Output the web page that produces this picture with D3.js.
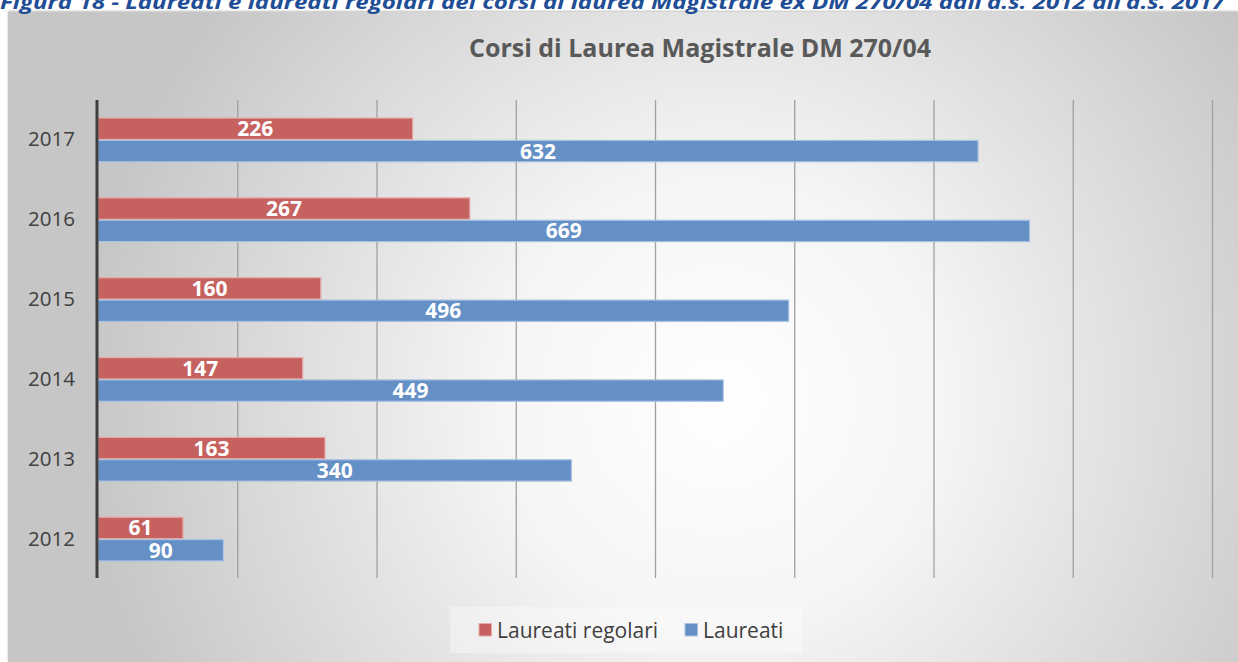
<!DOCTYPE html>
<html>
<head>
<meta charset="utf-8">
<script src="https://cdn.jsdelivr.net/npm/d3@7"></script>
<style>
  html, body { margin: 0; padding: 0; background: #ffffff; }
  svg { display: block; }
</style>
</head>
<body>
<script>
const years = ["2017", "2016", "2015", "2014", "2013", "2012"];
const laureatiRegolari = [226, 267, 160, 147, 163, 61];
const laureati = [632, 669, 496, 449, 340, 90];
const seriesNames = ["Laureati regolari", "Laureati"];
const xTicks = [0, 100, 200, 300, 400, 500, 600, 700, 800];
const captionText = "Figura 18 - Laureati e laureati regolari dei corsi di laurea Magistrale ex DM 270/04 dall\u2019a.s. 2012 all\u2019a.s. 2017";
const titleText = "Corsi di Laurea Magistrale DM 270/04";

const W = 1238, H = 662;
const FONT = "'Open Sans', 'Noto Sans', sans-serif";
const colors = { "Laureati regolari": "#c5625f", "Laureati": "#6490c6" };
const strokes = { "Laureati regolari": "#e8a9a7", "Laureati": "#a9c2e2" };

const svg = d3.select("body").append("svg").attr("width", W).attr("height", H);
const defs = svg.append("defs");
const grad = defs.append("radialGradient").attr("id", "bg")
  .attr("gradientUnits", "userSpaceOnUse")
  .attr("cx", 720).attr("cy", 400).attr("r", 640);
grad.append("stop").attr("offset", "0%").attr("stop-color", "#ffffff");
grad.append("stop").attr("offset", "35%").attr("stop-color", "#f5f5f5");
grad.append("stop").attr("offset", "100%").attr("stop-color", "#c6c6c6");

const shadow = defs.append("filter").attr("id", "sh").attr("x", "-5%").attr("y", "-5%").attr("width", "110%").attr("height", "110%");
shadow.append("feDropShadow").attr("dx", 0).attr("dy", -1).attr("stdDeviation", 1).attr("flood-color", "#000").attr("flood-opacity", 0.25);

// chart area background
svg.append("rect").attr("x", 8).attr("y", 12).attr("width", W - 8).attr("height", H - 12)
  .attr("fill", "url(#bg)").attr("filter", "url(#sh)");

// caption (partially cut off at top, as in the reference)
svg.append("text").attr("x", 0).attr("y", 9)
  .attr("font-family", FONT).attr("font-size", 20).attr("font-weight", "bold").attr("font-style", "italic")
  .attr("fill", "#1f4e96")
  .attr("textLength", 1225).attr("lengthAdjust", "spacingAndGlyphs")
  .text(captionText);

// title
svg.append("text").attr("x", 700).attr("y", 57).attr("text-anchor", "middle")
  .attr("font-family", FONT).attr("font-size", 25).attr("font-weight", "bold")
  .attr("fill", "#595959")
  .text(titleText);

const x = d3.scaleLinear().domain([0, 800]).range([98, 1212]);
const y = d3.scaleBand().domain(years).range([100, 579]).paddingInner(0.44).paddingOuter(0.22);
const ySub = d3.scaleBand().domain(seriesNames).range([0, y.bandwidth()]);

// gridlines
const xAxis = d3.axisBottom(x).tickValues(xTicks.slice(1)).tickSize(-(578 - 100)).tickFormat("");
const gx = svg.append("g").attr("transform", "translate(0,578)").call(xAxis);
gx.select(".domain").remove();
gx.selectAll(".tick line").attr("stroke", "#a0a0a0").attr("stroke-width", 1.3);

// bars
const data = years.map((yr, i) => ({ year: yr, values: [
  { name: seriesNames[0], v: laureatiRegolari[i] },
  { name: seriesNames[1], v: laureati[i] }
]}));

const groups = svg.append("g").selectAll("g").data(data).join("g")
  .attr("transform", d => `translate(0,${y(d.year)})`);

groups.selectAll("rect").data(d => d.values).join("rect")
  .attr("x", x(0))
  .attr("y", d => ySub(d.name) + 0.5)
  .attr("width", d => x(d.v) - x(0))
  .attr("height", ySub.bandwidth() - 1)
  .attr("fill", d => colors[d.name])
  .attr("stroke", d => strokes[d.name])
  .attr("stroke-width", 1.2);

groups.selectAll("text").data(d => d.values).join("text")
  .attr("x", d => (x(0) + x(d.v)) / 2)
  .attr("y", d => ySub(d.name) + ySub.bandwidth() / 2)
  .attr("dy", "0.36em")
  .attr("text-anchor", "middle")
  .attr("font-family", FONT).attr("font-size", 21).attr("font-weight", "bold")
  .attr("fill", "#ffffff")
  .text(d => d.v);

// y axis
const yAxis = d3.axisLeft(y).tickSize(0).tickPadding(22);
const gy = svg.append("g").attr("transform", `translate(${x(0) - 1},0)`).call(yAxis);
gy.select(".domain").attr("d", "M0,100V578").attr("stroke", "#3f3f3f").attr("stroke-width", 3);
gy.selectAll(".tick text").attr("font-family", FONT).attr("font-size", 20.5).attr("fill", "#404040");

// legend
const lg = svg.append("g");
lg.append("rect").attr("x", 450).attr("y", 607).attr("width", 352).attr("height", 46)
  .attr("fill", "#ffffff").attr("fill-opacity", 0.35);
const legendX = [479, 685];
seriesNames.forEach((n, i) => {
  lg.append("rect").attr("x", legendX[i]).attr("y", 623.5).attr("width", 12.5).attr("height", 12.5)
    .attr("fill", colors[n]).attr("stroke", strokes[n]).attr("stroke-width", 1);
  lg.append("text").attr("x", legendX[i] + 18).attr("y", 630).attr("dy", "0.36em")
    .attr("font-family", FONT).attr("font-size", 21).attr("fill", "#404040").text(n);
});
</script>
</body>
</html>
